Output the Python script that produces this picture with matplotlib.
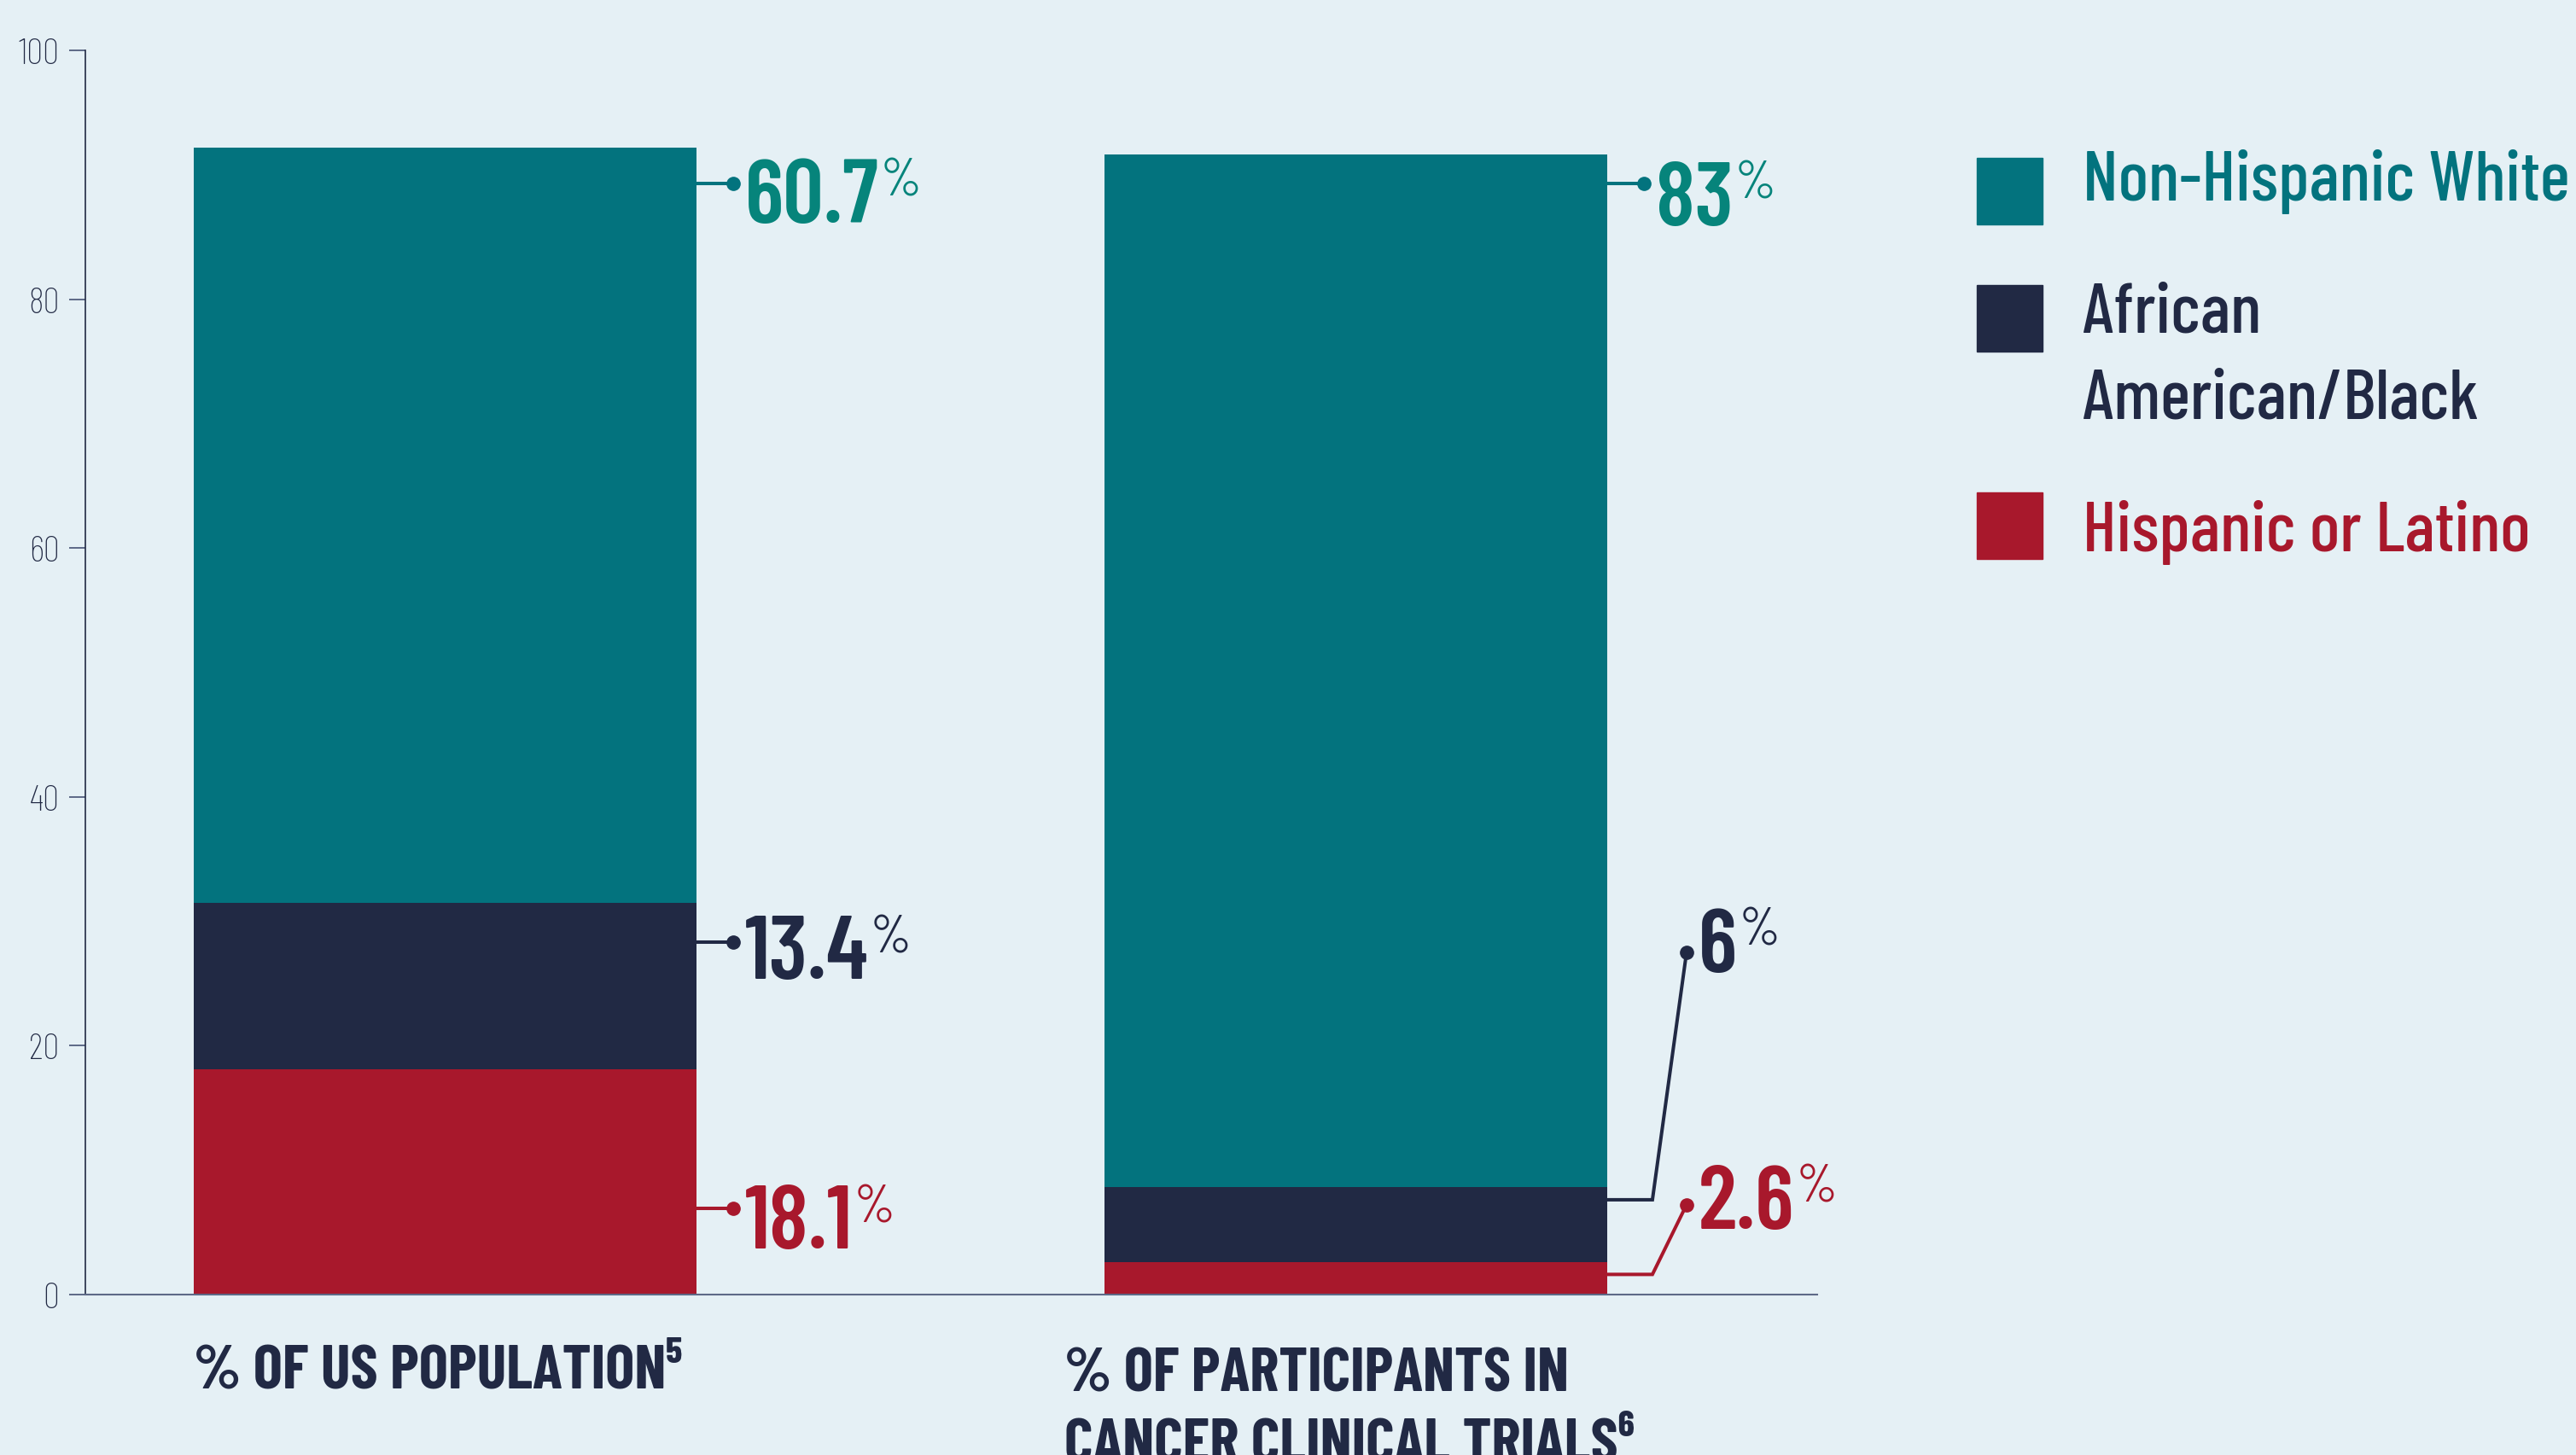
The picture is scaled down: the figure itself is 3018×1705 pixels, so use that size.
import matplotlib
matplotlib.use("Agg")
import matplotlib.pyplot as plt
from matplotlib.patches import Rectangle

plt.rcParams['font.family'] = ['Barlow Condensed', 'DejaVu Sans']

## DATA
categories = ["% OF US POPULATION⁵", "% OF PARTICIPANTS IN\nCANCER CLINICAL TRIALS⁶"]
hispanic = [18.1, 2.6]
black = [13.4, 6]
white = [60.7, 83]
legend_labels = ["Non-Hispanic White", "African\nAmerican/Black", "Hispanic or Latino"]
y_ticks = [0, 20, 40, 60, 80, 100]

# colours
bg = "#e5f0f5"
teal = "#03737e"
teal_text = "#06847b"
navy = "#212944"
red = "#a8182c"
axis_grey = "#5d6987"

W, H = 3018, 1706

## HELPERS
def fx(px):
    return px / W

def fy(py):
    return 1 - py / H

fig = plt.figure(figsize=(W / 100, H / 100), dpi=100, facecolor=bg)
ax = fig.add_axes([fx(100), fy(1517.7), fx(2129 - 100), (1517.7 - 60) / H])
ax.set_facecolor(bg)

x = [0, 1]
bar_w = 0.552
bottom_black = hispanic
bottom_white = [h + b for h, b in zip(hispanic, black)]

ax.bar(x, hispanic, bar_w, color=red, zorder=2)
ax.bar(x, black, bar_w, bottom=bottom_black, color=navy, zorder=2)
ax.bar(x, white, bar_w, bottom=bottom_white, color=teal, zorder=2)

ax.set_xlim(-0.395, 1.5066)
ax.set_ylim(0, 100)
ax.set_xticks([])
ax.set_yticks(y_ticks)
ax.tick_params(axis='y', length=14, width=1.4, color=axis_grey, labelsize=31,
               labelcolor=navy, pad=8)
for lab in ax.get_yticklabels():
    lab.set_fontweight('light')
for s in ["top", "right"]:
    ax.spines[s].set_visible(False)
ax.spines["left"].set_color(navy)
ax.spines["left"].set_linewidth(1.2)
ax.spines["bottom"].set_color(axis_grey)
ax.spines["bottom"].set_linewidth(1.5)

# pixels per x data unit
ppx = (2129 - 100) / (1.5066 + 0.395)

# label layout: (values, line colour, text colour, line start y, dot y, baseline offset px)
label_layout = [
    (white, teal, teal_text, [89.3, 89.3], [89.3, 89.3], [-45, -48]),
    (black, navy, navy, [28.3, 7.6], [28.3, 27.5], [-42, -22]),
    (hispanic, red, red, [6.9, 1.6], [6.9, 7.2], [-46, -27]),
]

for vals, lc, tc, starts, dots, dys in label_layout:
    for i in range(len(x)):
        x0 = x[i] + bar_w / 2
        if starts[i] == dots[i]:
            xs = [x0, x0 + 43 / ppx]
            ys = [starts[i], dots[i]]
        else:
            xs = [x0, x0 + 53 / ppx, x0 + 93 / ppx]
            ys = [starts[i], starts[i], dots[i]]
        ax.plot(xs, ys, color=lc, lw=2.9, solid_joinstyle='miter', clip_on=False, zorder=3)
        ax.plot(xs[-1], ys[-1], 'o', color=lc, ms=11, clip_on=False, zorder=3)
        t = ax.annotate(f"{vals[i]:g}", xy=(xs[-1], ys[-1]), xytext=(14, dys[i]),
                        textcoords='offset pixels', ha='left', va='baseline',
                        fontsize=76, fontweight='semibold', color=tc, annotation_clip=False)
        ax.annotate("%", xy=(1, 1), xycoords=t, xytext=(2, 1),
                    textcoords='offset pixels', ha='left', va='top',
                    fontsize=44, fontweight='normal', color=tc)

# category labels under the bars
cat_x = [227, 1247]
for i, lab in enumerate(categories):
    fig.text(fx(cat_x[i]), fy(1627 + 86 * lab.count("\n")), lab, ha='left', va='baseline',
             fontsize=52, fontweight='bold', color=navy, linespacing=1.35)

# legend
leg_colors = [teal, navy, red]
sq_top = [186, 335, 578]
txt_base = [235, 491, 646]
for lab, c, st, tb in zip(legend_labels, leg_colors, sq_top, txt_base):
    fig.add_artist(Rectangle((fx(2316), fy(st + 78)), fx(77), 78 / H,
                             transform=fig.transFigure, color=c))
    fig.text(fx(2440), fy(tb), lab, ha='left', va='baseline', fontsize=60,
             fontweight='medium', color=c, linespacing=1.47)

fig.savefig("out.png", dpi=100, facecolor=bg)
